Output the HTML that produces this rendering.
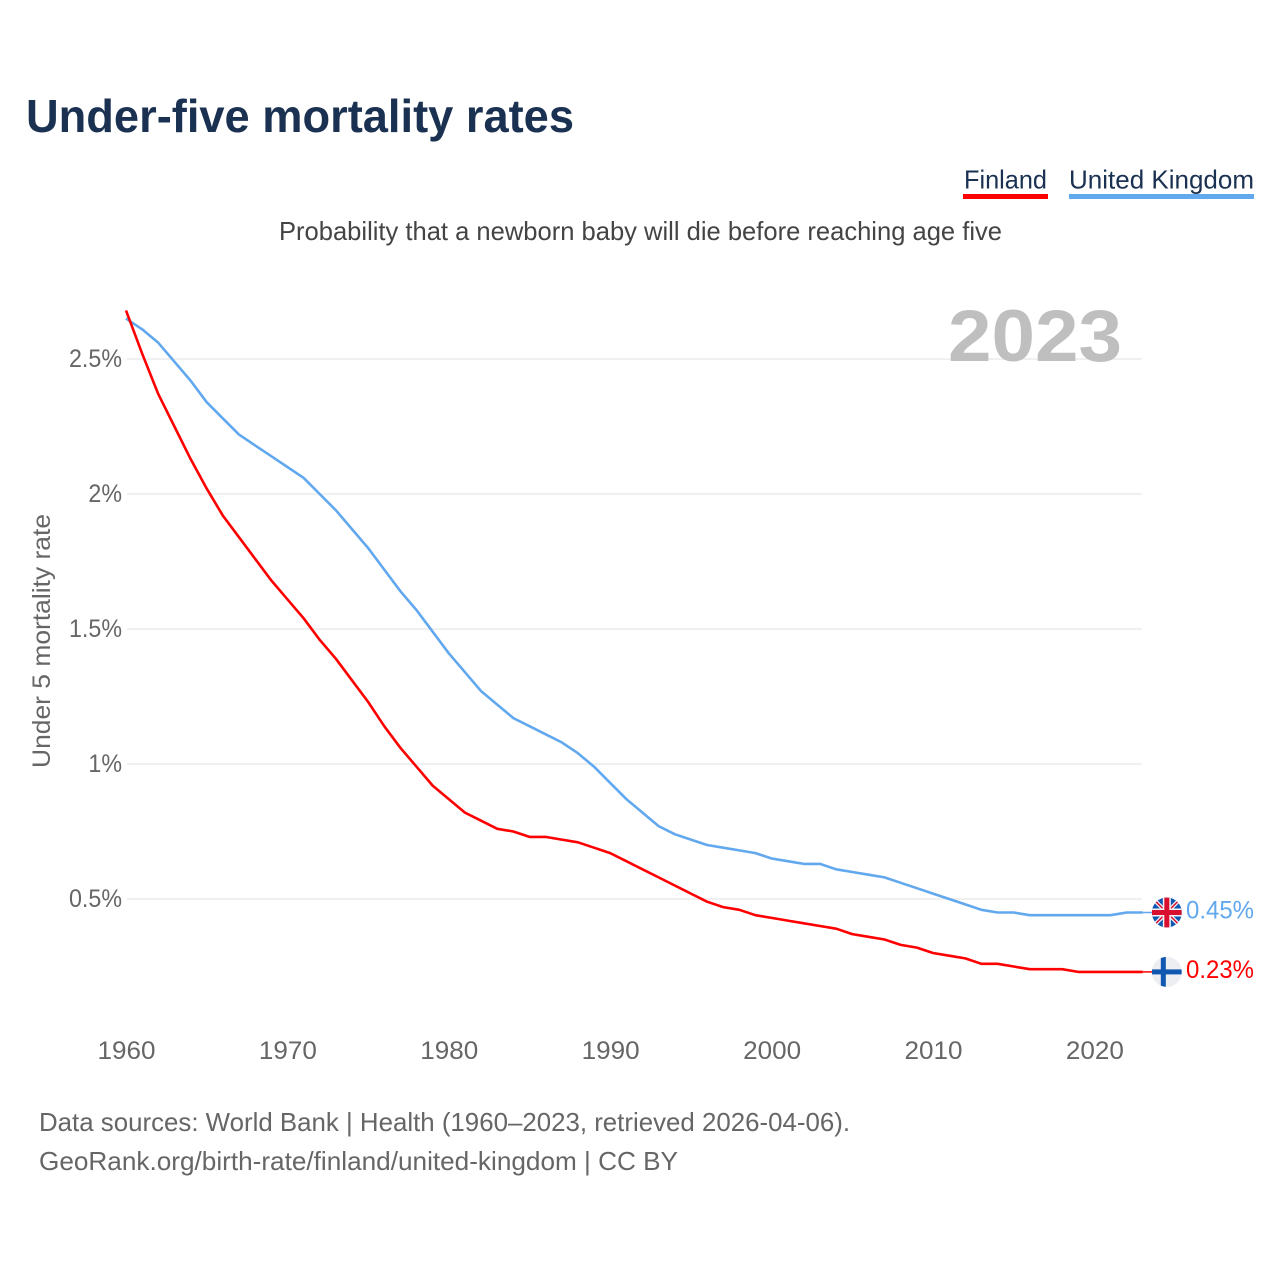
<!DOCTYPE html>
<html lang="en">
<head>
<meta charset="utf-8">
<title>Under-five mortality rates</title>
<style>
html,body{margin:0;padding:0;background:#fff;}
svg{display:block;font-family:"Liberation Sans",sans-serif;}
</style>
</head>
<body>
<svg id="chart" xmlns="http://www.w3.org/2000/svg" width="1280" height="1280" viewBox="0 0 1280 1280">
  <defs>
    <clipPath id="flag-clip"><circle cx="0" cy="0" r="15"/></clipPath>
  </defs>
  <rect x="0" y="0" width="1280" height="1280" fill="#ffffff"/>
  <text x="26" y="132" font-size="46" font-weight="700" fill="#1a3152" textLength="548" lengthAdjust="spacingAndGlyphs">Under-five mortality rates</text>

  <g>
    <text x="964" y="188.5" font-size="26" fill="#1a3152" textLength="83" lengthAdjust="spacingAndGlyphs">Finland</text>
    <rect x="963" y="194" width="85" height="5" fill="#ff0000"/>
  </g>
  <g>
    <text x="1069" y="188.5" font-size="26" fill="#1a3152" textLength="185" lengthAdjust="spacingAndGlyphs">United Kingdom</text>
    <rect x="1069" y="194" width="185" height="5" fill="#62a8ee"/>
  </g>

  <text x="279" y="240" font-size="26" fill="#444444" textLength="723" lengthAdjust="spacingAndGlyphs">Probability that a newborn baby will die before reaching age five</text>

  <g id="grid"></g>
  <text x="948" y="361" font-size="73" font-weight="700" fill="#bfbfbf" textLength="174" lengthAdjust="spacingAndGlyphs">2023</text>
  <g id="y-ticks"></g>
  <g id="x-ticks"></g>
  <text transform="translate(50,641) rotate(-90)" text-anchor="middle" font-size="25" fill="#666666" textLength="254" lengthAdjust="spacingAndGlyphs">Under 5 mortality rate</text>
  <g id="series"></g>

  <g id="flag-uk">
    <g clip-path="url(#flag-clip)">
      <rect x="-15" y="-15" width="30" height="30" fill="#0f57b0"/>
      <path d="M-15 -15L15 15M15 -15L-15 15" stroke="#f2f4f7" stroke-width="4"/>
      <path d="M-15 -15L15 15M15 -15L-15 15" stroke="#d80f2f" stroke-width="1.5"/>
      <rect x="-4" y="-15" width="8" height="30" fill="#f2f4f7"/>
      <rect x="-15" y="-4" width="30" height="8" fill="#f2f4f7"/>
      <rect x="-2.5" y="-15" width="5" height="30" fill="#d80f2f"/>
      <rect x="-15" y="-2.5" width="30" height="5" fill="#d80f2f"/>
    </g>
  </g>
  <g id="flag-fi">
    <g clip-path="url(#flag-clip)">
      <rect x="-15" y="-15" width="30" height="30" fill="#eceef1"/>
      <rect x="-6" y="-15" width="5" height="30" fill="#0f57b0"/>
      <rect x="-15" y="-2.5" width="30" height="5" fill="#0f57b0"/>
    </g>
  </g>
  <text id="label-uk" x="1186" font-size="25" fill="#62a8ee" textLength="68" lengthAdjust="spacingAndGlyphs"></text>
  <text id="label-fi" x="1186" font-size="25" fill="#ff0000" textLength="68" lengthAdjust="spacingAndGlyphs"></text>

  <text x="39" y="1131" font-size="26" fill="#666666" textLength="811" lengthAdjust="spacingAndGlyphs">Data sources: World Bank | Health (1960–2023, retrieved 2026-04-06).</text>
  <text x="39" y="1170" font-size="26" fill="#666666" textLength="639" lengthAdjust="spacingAndGlyphs">GeoRank.org/birth-rate/finland/united-kingdom | CC BY</text>
</svg>
<script>
const startYear = 1960;
const finlandValues = [2.68,2.52,2.37,2.25,2.13,2.02,1.92,1.84,1.76,1.68,1.61,1.54,1.46,1.39,1.31,1.23,1.14,1.06,0.99,0.92,0.87,0.82,0.79,0.76,0.75,0.73,0.73,0.72,0.71,0.69,0.67,0.64,0.61,0.58,0.55,0.52,0.49,0.47,0.46,0.44,0.43,0.42,0.41,0.40,0.39,0.37,0.36,0.35,0.33,0.32,0.30,0.29,0.28,0.26,0.26,0.25,0.24,0.24,0.24,0.23,0.23,0.23,0.23,0.23];
const ukValues = [2.65,2.61,2.56,2.49,2.42,2.34,2.28,2.22,2.18,2.14,2.10,2.06,2.00,1.94,1.87,1.80,1.72,1.64,1.57,1.49,1.41,1.34,1.27,1.22,1.17,1.14,1.11,1.08,1.04,0.99,0.93,0.87,0.82,0.77,0.74,0.72,0.70,0.69,0.68,0.67,0.65,0.64,0.63,0.63,0.61,0.60,0.59,0.58,0.56,0.54,0.52,0.50,0.48,0.46,0.45,0.45,0.44,0.44,0.44,0.44,0.44,0.44,0.45,0.45];
const yTickValues = [0.5,1,1.5,2,2.5];
const yTickLabels = ["0.5%","1%","1.5%","2%","2.5%"];
const xTickValues = [1960,1970,1980,1990,2000,2010,2020];

const NS = "http://www.w3.org/2000/svg";
function xScale(year){ return 126 + (year - 1960) * 16.14; }
function yScale(value){ return 1034 - value * 270; }

function make(tag, attrs, parent, text){
  const el = document.createElementNS(NS, tag);
  Object.keys(attrs).forEach(function(k){ el.setAttribute(k, attrs[k]); });
  if (text !== undefined) el.textContent = text;
  parent.appendChild(el);
  return el;
}

const gridGroup = document.getElementById("grid");
const yTickGroup = document.getElementById("y-ticks");
yTickValues.forEach(function(v, i){
  const gridline = make("line", {x1:127, x2:xScale(2023)-1, y1:yScale(v), y2:yScale(v), stroke:"#ececec", "stroke-width":1.5}, gridGroup);
  
  
  const label = make("text", {x:122, y:yScale(v)+8, "text-anchor":"end", "font-size":25, fill:"#666666"}, yTickGroup, yTickLabels[i]);
  
  
  label.setAttribute("textLength", (label.getComputedTextLength() * 0.93).toFixed(1));
  label.setAttribute("lengthAdjust", "spacingAndGlyphs");
});

const xTickGroup = document.getElementById("x-ticks");
xTickValues.forEach(function(y){
  const label = make("text", {x:xScale(y)+0.5, y:1059, "text-anchor":"middle", "font-size":25, fill:"#666666", textLength:58, lengthAdjust:"spacingAndGlyphs"}, xTickGroup, String(y));
  
  
});

function linePath(values){
  return values.map(function(v, i){
    return (i ? "L" : "M") + xScale(startYear + i).toFixed(2) + " " + yScale(v).toFixed(2);
  }).join("");
}

const seriesGroup = document.getElementById("series");
const ukLine = make("path", {d:linePath(ukValues), fill:"none", stroke:"#62a8ee", "stroke-width":2.6, "stroke-linejoin":"round"}, seriesGroup);


const fiLine = make("path", {d:linePath(finlandValues), fill:"none", stroke:"#ff0000", "stroke-width":2.6, "stroke-linejoin":"round"}, seriesGroup);



function placeEnd(values, color, flagId, labelId){
  const last = values[values.length - 1];
  const y = yScale(last);
  const x = xScale(startYear + values.length - 1);
  const leader = make("line", {x1:x, x2:x+10, y1:y, y2:y, stroke:color, "stroke-width":1.5}, seriesGroup);
  
  
  document.getElementById(flagId).setAttribute("transform", "translate(" + (x + 24) + "," + y + ")");
  const label = document.getElementById(labelId);
  label.setAttribute("y", y + 6);
  label.textContent = last.toFixed(2) + "%";
}
placeEnd(ukValues, "#62a8ee", "flag-uk", "label-uk");
placeEnd(finlandValues, "#ff0000", "flag-fi", "label-fi");
</script>
</body>
</html>
